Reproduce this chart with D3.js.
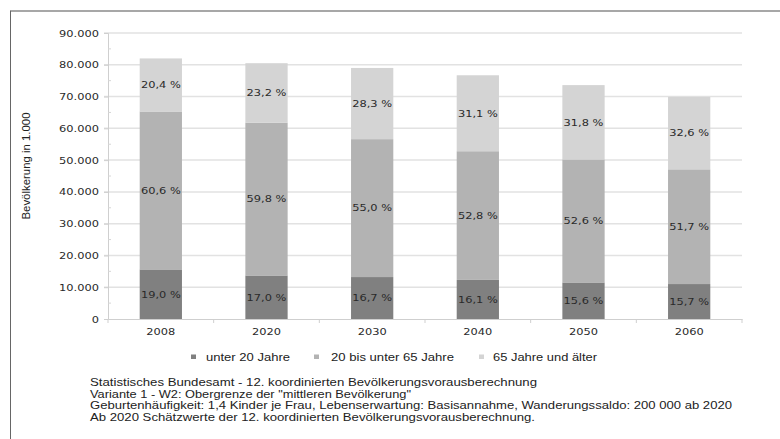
<!DOCTYPE html>
<html>
<head>
<meta charset="utf-8">
<script src="https://cdn.jsdelivr.net/npm/d3@7"></script>
<style>
  body { margin: 0; background: #fff; }
  svg { display: block; }
</style>
</head>
<body>
<div class="chart"></div>
<script>
// Data (values in 1.000)
var years = ["2008", "2020", "2030", "2040", "2050", "2060"];
var under20 = [15.6, 13.7, 13.2, 12.3, 11.5, 11.0];
var mid20to65 = [49.7, 48.1, 43.4, 40.5, 38.7, 36.1];
var over65 = [16.7, 18.7, 22.4, 23.9, 23.4, 22.8];
var pctUnder20 = ["19,0 %", "17,0 %", "16,7 %", "16,1 %", "15,6 %", "15,7 %"];
var pctMid = ["60,6 %", "59,8 %", "55,0 %", "52,8 %", "52,6 %", "51,7 %"];
var pctOver65 = ["20,4 %", "23,2 %", "28,3 %", "31,1 %", "31,8 %", "32,6 %"];
var seriesNames = ["unter 20 Jahre", "20 bis unter 65 Jahre", "65 Jahre und älter"];
var yTicks = [0, 10, 20, 30, 40, 50, 60, 70, 80, 90];
var footnotes = [
  "Statistisches Bundesamt - 12. koordinierten Bevölkerungsvorausberechnung",
  "Variante 1 - W2: Obergrenze der \"mittleren Bevölkerung\"",
  "Geburtenhäufigkeit: 1,4 Kinder je Frau, Lebenserwartung: Basisannahme, Wanderungssaldo: 200 000 ab 2020",
  "Ab 2020 Schätzwerte der 12. koordinierten Bevölkerungsvorausberechnung."
];

var svgWidth = 780;
var svgHeight = 439;
var margin = { top: 33, right: 38, bottom: 120, left: 108 };
var width = svgWidth - margin.left - margin.right;
var height = svgHeight - margin.top - margin.bottom;

var colors = ["#808080", "#b3b3b3", "#d4d4d4"];
var numFont = "'DejaVu Sans', Verdana, sans-serif";
var txtFont = "'Liberation Sans', Arial, sans-serif";

var svg = d3.select(".chart")
  .append("svg")
  .attr("width", svgWidth)
  .attr("height", svgHeight);

// frame (only top and left edges are visible)
svg.append("line").attr("x1", 10.5).attr("x2", svgWidth).attr("y1", 11).attr("y2", 11)
  .attr("stroke", "#8a8a8a").attr("stroke-width", 1.5);
svg.append("line").attr("x1", 10.5).attr("x2", 10.5).attr("y1", 10.5).attr("y2", svgHeight)
  .attr("stroke", "#666").attr("stroke-width", 1);

var chartGroup = svg.append("g")
  .attr("transform", `translate(${margin.left}, ${margin.top})`);

var xScale = d3.scaleBand()
  .domain(years)
  .range([0, width])
  .paddingInner(0.6)
  .paddingOuter(0.3);

var yScale = d3.scaleLinear()
  .domain([0, 90])
  .range([height, 0]);

// stretch text a bit wider than the browser draws it
function stretch(sel, k) {
  sel.each(function() {
    var len = this.getComputedTextLength();
    d3.select(this).attr("textLength", len * k).attr("lengthAdjust", "spacingAndGlyphs");
  });
}

// gridlines
chartGroup.append("g")
  .selectAll("line")
  .data(yTicks.slice(1))
  .enter()
  .append("line")
  .attr("x1", -4)
  .attr("x2", width)
  .attr("y1", d => yScale(d))
  .attr("y2", d => yScale(d))
  .attr("stroke", "#e2e2e2")
  .attr("stroke-width", 1.5);

// y axis
var leftAxis = d3.axisLeft(yScale)
  .tickValues(yTicks)
  .tickSize(4)
  .tickPadding(5)
  .tickFormat(d => d3.format(",")(d * 1000).replace(/,/g, "."));

var yAxis = chartGroup.append("g").call(leftAxis);
yAxis.select(".domain").attr("stroke", "#cfcfcf");
yAxis.selectAll(".tick line").attr("stroke", "#cfcfcf");
yAxis.selectAll(".tick text")
  .attr("font-family", numFont)
  .attr("font-size", "9.5px")
  .attr("fill", "#2a2a2a")
  .call(stretch, 1.2);

// minor ticks
chartGroup.append("g")
  .selectAll("line")
  .data(yTicks.slice(1).map(d => d - 5))
  .enter()
  .append("line")
  .attr("x1", 0)
  .attr("x2", 3)
  .attr("y1", d => yScale(d))
  .attr("y2", d => yScale(d))
  .attr("stroke", "#d6d6d6");

// x axis
var bottomAxis = d3.axisBottom(xScale).tickSize(0).tickPadding(9);
var xAxis = chartGroup.append("g")
  .attr("transform", `translate(0, ${height})`)
  .call(bottomAxis);
xAxis.select(".domain").attr("stroke", "#cfcfcf");
xAxis.selectAll(".tick text")
  .attr("font-family", numFont)
  .attr("font-size", "9.5px")
  .attr("fill", "#2a2a2a")
  .call(stretch, 1.2);

// tick marks between categories
xAxis.append("g")
  .selectAll("line")
  .data(d3.range(years.length + 1))
  .enter()
  .append("line")
  .attr("x1", i => i * xScale.step())
  .attr("x2", i => i * xScale.step())
  .attr("y1", 0)
  .attr("y2", 4)
  .attr("stroke", "#cfcfcf");

// stacked bars
var rows = years.map((y, i) => ({
  year: y,
  under20: under20[i],
  mid: mid20to65[i],
  over65: over65[i],
  labels: [pctUnder20[i], pctMid[i], pctOver65[i]]
}));
var keys = ["under20", "mid", "over65"];
var stacked = d3.stack().keys(keys)(rows);

var layers = chartGroup.selectAll(".layer")
  .data(stacked)
  .enter()
  .append("g")
  .attr("class", "layer")
  .attr("fill", (d, i) => colors[i]);

layers.selectAll("rect")
  .data(d => d)
  .enter()
  .append("rect")
  .attr("x", d => xScale(d.data.year))
  .attr("y", d => yScale(d[1]))
  .attr("width", xScale.bandwidth())
  .attr("height", d => yScale(d[0]) - yScale(d[1]));

// percentage labels
stacked.forEach(function(layer, li) {
  chartGroup.append("g")
    .selectAll("text")
    .data(layer)
    .enter()
    .append("text")
    .attr("x", d => xScale(d.data.year) + xScale.bandwidth() / 2)
    .attr("y", d => yScale((d[0] + d[1]) / 2))
    .attr("dy", "0.35em")
    .attr("text-anchor", "middle")
    .attr("font-family", numFont)
    .attr("font-size", "9.5px")
    .attr("fill", "#2a2a2a")
    .text(d => d.data.labels[li])
    .call(stretch, 1.2);
});

// y axis title
svg.append("text")
  .attr("transform", "translate(30, 166) rotate(-90)")
  .attr("text-anchor", "middle")
  .attr("font-family", txtFont)
  .attr("font-size", "10px")
  .attr("fill", "#222")
  .text("Bevölkerung in 1.000")
  .attr("textLength", 107)
  .attr("lengthAdjust", "spacingAndGlyphs");

// legend
var legendX = [191, 314, 479];
var legendTextX = [206, 331, 493];
var legendW = [84, 123, 104];
var legend = svg.append("g");
legend.selectAll("rect")
  .data(seriesNames)
  .enter()
  .append("rect")
  .attr("x", (d, i) => legendX[i])
  .attr("y", 354.5)
  .attr("width", 5)
  .attr("height", 4.5)
  .attr("fill", (d, i) => colors[i]);
legend.selectAll("text")
  .data(seriesNames)
  .enter()
  .append("text")
  .attr("x", (d, i) => legendTextX[i])
  .attr("y", 360.5)
  .attr("font-family", txtFont)
  .attr("font-size", "10.5px")
  .attr("fill", "#222")
  .attr("textLength", (d, i) => legendW[i])
  .attr("lengthAdjust", "spacingAndGlyphs")
  .text(d => d);

// source notes
var noteW = [447, 321, 642, 445];
svg.append("g")
  .selectAll("text")
  .data(footnotes)
  .enter()
  .append("text")
  .attr("x", 90)
  .attr("y", (d, i) => 386 + i * 11.7)
  .attr("font-family", txtFont)
  .attr("font-size", "10.5px")
  .attr("fill", "#222")
  .attr("textLength", (d, i) => noteW[i])
  .attr("lengthAdjust", "spacingAndGlyphs")
  .text(d => d);
</script>
</body>
</html>
